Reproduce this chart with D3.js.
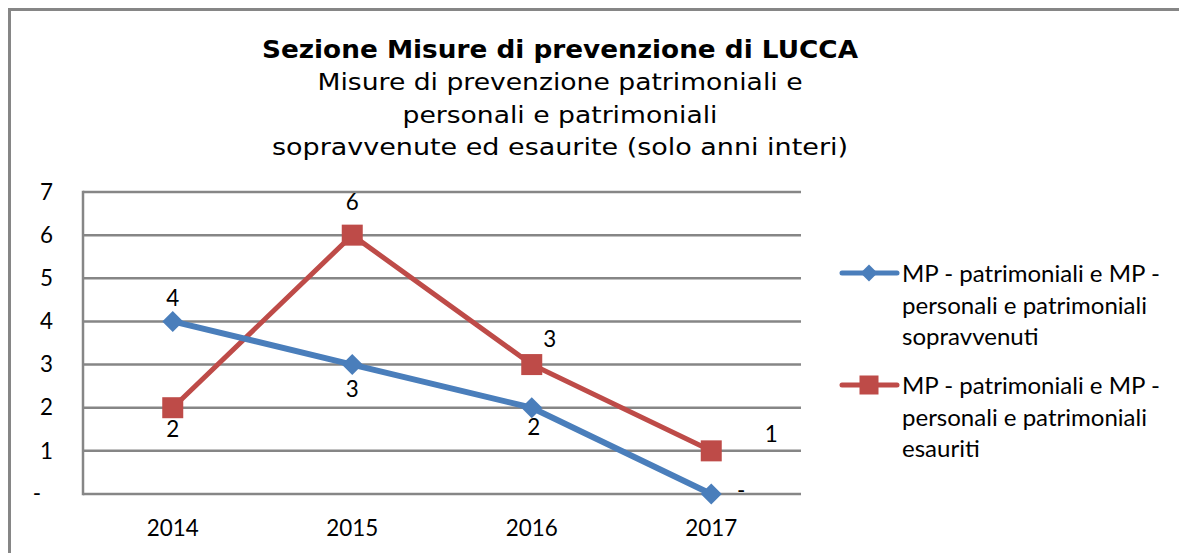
<!DOCTYPE html>
<html><head><meta charset="utf-8">
<script src="https://cdn.jsdelivr.net/npm/d3@7"></script>
<style>
html,body{margin:0;padding:0;background:#fff;}
svg{display:block;}
</style></head>
<body>
<svg id="chart" width="1179" height="553"></svg>
<script>
// ---- data ----
const categories = ["2014", "2015", "2016", "2017"];
const sopravvenuti = [4, 3, 2, 0];
const esauriti = [2, 6, 3, 1];
const yTicks = [0, 1, 2, 3, 4, 5, 6, 7];
const seriesNames = [
  ["MP - patrimoniali e MP -", "personali e patrimoniali", "sopravvenuti"],
  ["MP - patrimoniali e MP -", "personali e patrimoniali", "esauriti"]
];
const titleText = "Sezione Misure di prevenzione di LUCCA";
const subtitleLines = ["Misure di prevenzione patrimoniali e", "personali e patrimoniali", "sopravvenute ed esaurite (solo anni interi)"];

// layout / style
const subtitleWidths = [485, 315, 576];
const bluePlace = [[0,-23],[0,25],[2,19],[30,-4]];
const redPlace = [[0,21],[0,-33],[18,-25],[60,-17]];

const fmt = v => v === 0 ? "-" : String(v);

const svg = d3.select("#chart");
const W = 1179, H = 553;
const m = {left: 83, right: 801, top: 192, bottom: 494};
const blue = "#4a7ebb", red = "#be4b48", grid = "#868686";
const labFont = "Lato, 'Open Sans', sans-serif";
const titleFont = "'DejaVu Sans', Verdana, sans-serif";

function fit(sel, target) {
  let fs = parseFloat(sel.attr("font-size"));
  const w = sel.node().getComputedTextLength();
  sel.attr("font-size", fs * target / w);
  return fs * target / w;
}

// frame
svg.append("path").attr("d", `M9.5,${H} L9.5,9.5 L${W},9.5`).attr("fill","none").attr("stroke", grid).attr("stroke-width",3);

// title
svg.append("text").attr("x",560).attr("y",58).attr("text-anchor","middle")
  .attr("font-family",titleFont).attr("font-weight","bold").attr("font-size",24.5).attr("fill","#000")
  .attr("textLength",596).attr("lengthAdjust","spacingAndGlyphs").text(titleText);
subtitleLines.forEach((s,i) => {
  svg.append("text").attr("x",560).attr("y",90 + i*32.5).attr("text-anchor","middle")
    .attr("font-family",titleFont).attr("font-size",23.3).attr("fill","#000")
    .attr("textLength",subtitleWidths[i]).attr("lengthAdjust","spacingAndGlyphs").text(s);
});

// scales
const x = d3.scaleBand().domain(categories).range([m.left, m.right]).padding(0);
const y = d3.scaleLinear().domain([0,7]).range([m.bottom, m.top]);
const cx = c => x(c) + x.bandwidth()/2;

// font size for axis labels
const probe = svg.append("text").attr("font-family",labFont).attr("font-size",22).text("2014");
const axFs = fit(probe, 52);
probe.remove();

// gridlines
svg.append("g").selectAll("line").data(yTicks).join("line")
  .attr("x1", m.left).attr("x2", m.right).attr("y1", d=>y(d)).attr("y2", d=>y(d))
  .attr("stroke", grid).attr("stroke-width", 2.5);
svg.append("line").attr("x1",m.left).attr("x2",m.left).attr("y1",y(7)-1.25).attr("y2",y(0)+1.25)
  .attr("stroke",grid).attr("stroke-width",2.5);

// y axis labels
const yAxis = d3.axisLeft(y).tickValues(yTicks).tickFormat(fmt).tickSize(0).tickPadding(0);
const yg = svg.append("g").attr("transform","translate(53,0)").call(yAxis);
yg.select(".domain").remove();
yg.selectAll("text").attr("font-family",labFont).attr("font-size",axFs).attr("fill","#000")
  .attr("dx", d => d===0 ? -12 : 0).attr("dy", d => d===0 ? "0.3em" : "0.32em");

// x axis labels
const xAxis = d3.axisBottom(x).tickSize(0).tickPadding(0);
const xg = svg.append("g").attr("transform",`translate(0,${m.bottom})`).call(xAxis);
xg.select(".domain").remove();
xg.selectAll("text").attr("font-family",labFont).attr("font-size",axFs).attr("fill","#000").attr("dy",0).attr("y",42);

// lines
const line = d3.line().x((d,i)=>cx(categories[i])).y(d=>y(d));
svg.append("path").datum(esauriti).attr("d",line).attr("fill","none").attr("stroke",red).attr("stroke-width",5).attr("stroke-linejoin","round");
svg.append("path").datum(sopravvenuti).attr("d",line).attr("fill","none").attr("stroke",blue).attr("stroke-width",6).attr("stroke-linejoin","round");

// markers
const sq = 21;
svg.append("g").selectAll("rect").data(esauriti).join("rect")
  .attr("x",(d,i)=>cx(categories[i])-sq/2).attr("y",d=>y(d)-sq/2).attr("width",sq).attr("height",sq).attr("fill",red);
const diamond = (s) => `M0,${-s} L${s},0 L0,${s} L${-s},0 Z`;
svg.append("g").selectAll("path").data(sopravvenuti).join("path")
  .attr("transform",(d,i)=>`translate(${cx(categories[i])},${y(d)})`).attr("d",diamond(10.5)).attr("fill",blue);

// data labels
function labels(data, place) {
  svg.append("g").selectAll("text").data(data).join("text")
    .attr("x",(d,i)=>cx(categories[i]) + place[i][0]).attr("y",(d,i)=>y(d)+place[i][1])
    .attr("dy","0.35em").attr("text-anchor","middle")
    .attr("font-family",labFont).attr("font-size",axFs).attr("fill","#000").text(fmt);
}
labels(sopravvenuti, bluePlace);
labels(esauriti, redPlace);

// legend
const lg = svg.append("g");
const legFsProbe = lg.append("text").attr("font-family",labFont).attr("font-size",22).text(seriesNames[0][0]);
const legFs = fit(legFsProbe, 258);
legFsProbe.remove();
[[blue, 273, "d"], [red, 385, "s"]].forEach(([col, ly, mk], k) => {
  lg.append("line").attr("x1",842).attr("x2",897).attr("y1",ly).attr("y2",ly).attr("stroke",col).attr("stroke-width",5).attr("stroke-linecap","round");
  if (mk === "d") lg.append("path").attr("transform",`translate(869,${ly})`).attr("d",diamond(8.5)).attr("fill",col);
  else lg.append("rect").attr("x",869-9.5).attr("y",ly-9.5).attr("width",19).attr("height",19).attr("fill",col);
  seriesNames[k].forEach((s,i) => {
    lg.append("text").attr("x",902).attr("y",ly + 9 + i*31.5).attr("font-family",labFont).attr("font-size",legFs).attr("fill","#000").text(s);
  });
});
</script>
</body></html>
